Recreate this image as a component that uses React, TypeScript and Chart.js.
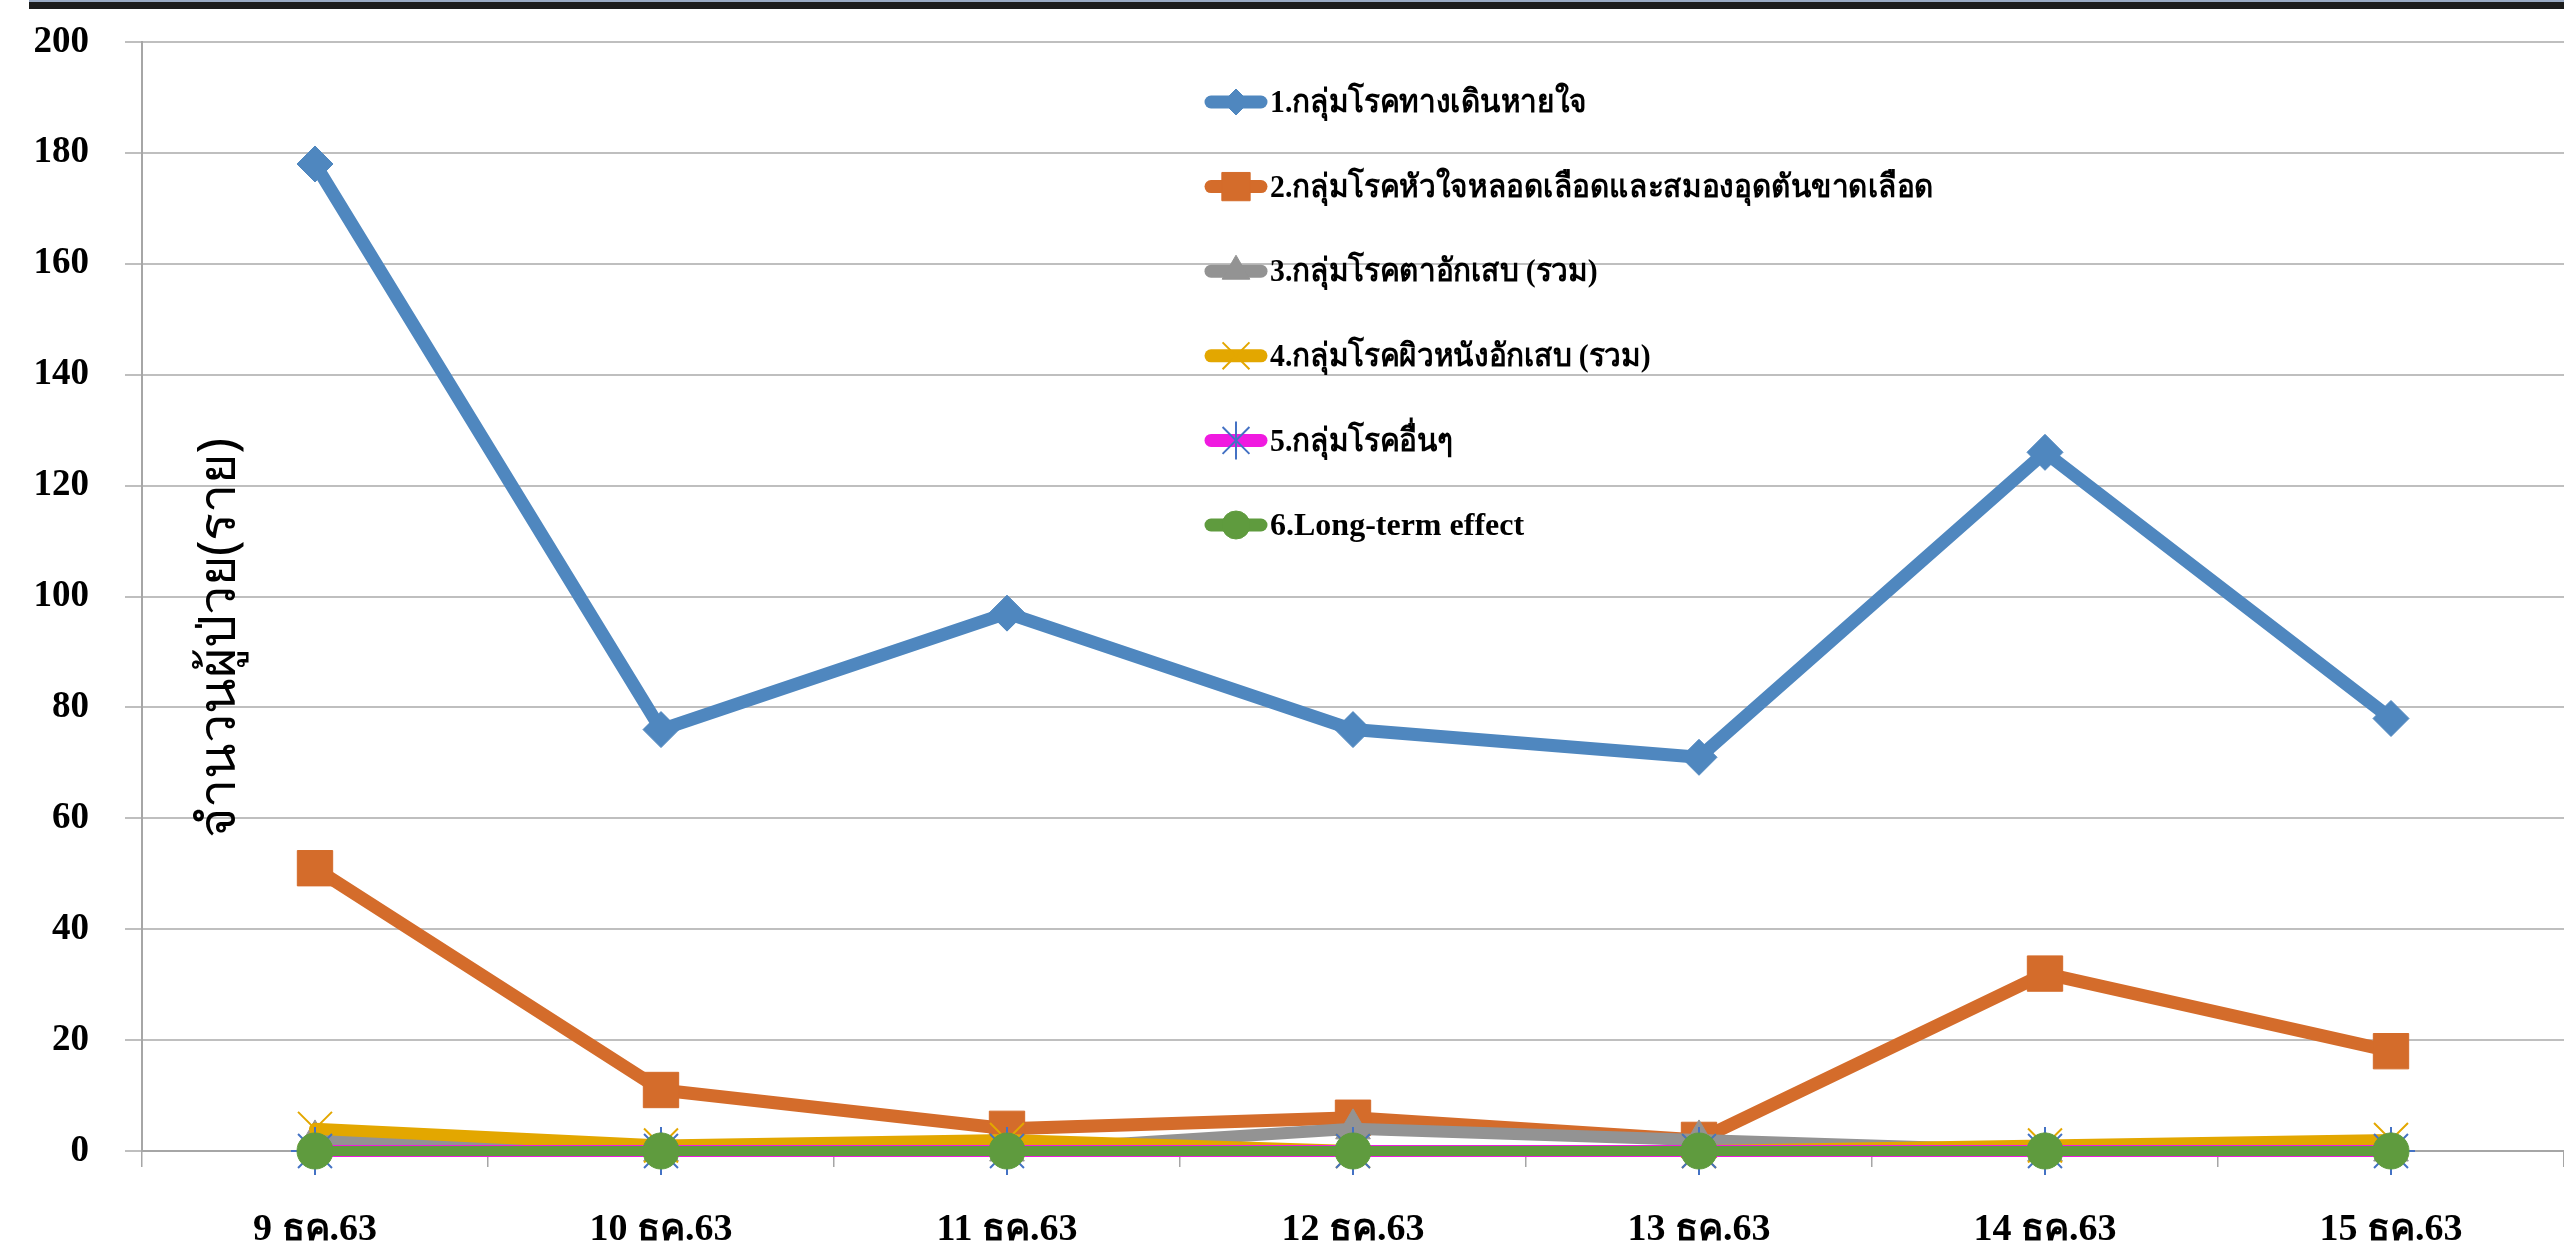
import React, { useEffect, useRef } from "react";
import { Chart, registerables } from "chart.js";

Chart.register(...registerables);

const categories = ["9 ธค.63", "10 ธค.63", "11 ธค.63", "12 ธค.63", "13 ธค.63", "14 ธค.63", "15 ธค.63"];
const seriesNames = [
  "1.กลุ่มโรคทางเดินหายใจ",
  "2.กลุ่มโรคหัวใจหลอดเลือดและสมองอุดตันขาดเลือด",
  "3.กลุ่มโรคตาอักเสบ (รวม)",
  "4.กลุ่มโรคผิวหนังอักเสบ (รวม)",
  "5.กลุ่มโรคอื่นๆ",
  "6.Long-term effect",
];
const respiratory = [178, 76, 97, 76, 71, 126, 78];
const cardio = [51, 11, 4, 6, 2, 32, 18];
const eye = [2, 0, 0, 4, 2, 0, 0];
const skin = [4, 1, 2, 0, 0, 1, 2];
const other = [0, 0, 0, 0, 0, 0, 0];
const longTerm = [0, 0, 0, 0, 0, 0, 0];
const yMin = 0;
const yMax = 200;
const yStep = 20;
const yTitle = "จำนวนผู้ป่วย(ราย)";

const seriesValues = [respiratory, cardio, eye, skin, other, longTerm];

type Style = {
  color: string;
  point: string;
  pointFill: string;
  pointBorder: string;
  pointBorderWidth: number;
  radius: number;
  legendRadius: number;
  lineWidth: number;
};

const styles: Style[] = [
  { color: "#4f87bf", point: "rectRot", pointFill: "#4f87bf", pointBorder: "#4f87bf", pointBorderWidth: 1, radius: 18, legendRadius: 13, lineWidth: 13 },
  { color: "#d46c2b", point: "rect", pointFill: "#d46c2b", pointBorder: "#d46c2b", pointBorderWidth: 1, radius: 25, legendRadius: 20, lineWidth: 13 },
  { color: "#939393", point: "triangle", pointFill: "#939393", pointBorder: "#939393", pointBorderWidth: 1, radius: 20, legendRadius: 16, lineWidth: 12 },
  { color: "#e3a700", point: "crossRot", pointFill: "#e3a700", pointBorder: "#e3a700", pointBorderWidth: 2, radius: 24, legendRadius: 19, lineWidth: 12 },
  { color: "#f01ae0", point: "star", pointFill: "#4472c4", pointBorder: "#4472c4", pointBorderWidth: 2, radius: 24, legendRadius: 19, lineWidth: 12 },
  { color: "#5f9b3e", point: "circle", pointFill: "#5f9b3e", pointBorder: "#5f9b3e", pointBorderWidth: 1, radius: 18, legendRadius: 14, lineWidth: 10 },
];

function drawMarker(ctx: CanvasRenderingContext2D, kind: string, x: number, y: number, r: number, fill: string, stroke: string, bw: number) {
  ctx.save();
  ctx.fillStyle = fill;
  ctx.strokeStyle = stroke;
  ctx.lineWidth = bw;
  ctx.beginPath();
  const c45 = Math.SQRT1_2 * r;
  let filled = true;
  if (kind === "rectRot") {
    ctx.moveTo(x - r, y);
    ctx.lineTo(x, y - r);
    ctx.lineTo(x + r, y);
    ctx.lineTo(x, y + r);
    ctx.closePath();
  } else if (kind === "rect") {
    ctx.rect(x - c45, y - c45, 2 * c45, 2 * c45);
  } else if (kind === "triangle") {
    for (let k = 0; k < 3; k++) {
      const a = (k * 2 * Math.PI) / 3;
      const px = x + Math.sin(a) * r;
      const py = y - Math.cos(a) * r;
      if (k === 0) ctx.moveTo(px, py);
      else ctx.lineTo(px, py);
    }
    ctx.closePath();
  } else if (kind === "crossRot" || kind === "star") {
    filled = false;
    ctx.moveTo(x - c45, y - c45);
    ctx.lineTo(x + c45, y + c45);
    ctx.moveTo(x - c45, y + c45);
    ctx.lineTo(x + c45, y - c45);
    if (kind === "star") {
      ctx.moveTo(x, y - r);
      ctx.lineTo(x, y + r);
    }
  } else {
    ctx.arc(x, y, r, 0, Math.PI * 2);
  }
  if (filled) ctx.fill();
  ctx.stroke();
  ctx.restore();
}

const thaiRe = /[\u0E00-\u0E7F]/;

const insideLegend = {
  id: "insideLegend",
  afterDraw(chart: any) {
    const ctx: CanvasRenderingContext2D = chart.ctx;
    const area = chart.chartArea;
    const x0 = area.left + 1063;
    seriesNames.forEach((name, i) => {
      const st = styles[i];
      const y = area.top + 60 + i * 84.6;
      ctx.save();
      ctx.strokeStyle = st.color;
      ctx.lineWidth = 13;
      ctx.lineCap = "round";
      ctx.beginPath();
      ctx.moveTo(x0 + 6, y);
      ctx.lineTo(x0 + 56, y);
      ctx.stroke();
      ctx.restore();
      drawMarker(ctx, st.point, x0 + 31, y, st.legendRadius, st.pointFill, st.pointBorder, st.pointBorderWidth);
      ctx.save();
      ctx.fillStyle = "#000";
      ctx.font = 'bold 32px "Liberation Serif", "DejaVu Serif", serif';
      ctx.textBaseline = "middle";
      ctx.textAlign = "left";
      const w = ctx.measureText(name).width;
      const maxW = thaiRe.test(name) ? w * 0.93 : w;
      ctx.fillText(name, x0 + 65, y + 2, maxW);
      ctx.restore();
    });
  },
};

const innerYTitle = {
  id: "innerYTitle",
  afterDraw(chart: any) {
    const ctx: CanvasRenderingContext2D = chart.ctx;
    const area = chart.chartArea;
    ctx.save();
    ctx.translate(area.left + 78, area.top + 596);
    ctx.rotate(-Math.PI / 2);
    ctx.fillStyle = "#000";
    ctx.font = '52px "Noto Sans", "DejaVu Sans", sans-serif';
    ctx.textAlign = "center";
    ctx.textBaseline = "middle";
    ctx.fillText(yTitle, 0, 0);
    ctx.restore();
  },
};

export default function App() {
  const ref = useRef<HTMLCanvasElement | null>(null);
  useEffect(() => {
    document.body.style.margin = "0";
    const canvas = ref.current;
    if (!canvas) return;
    const serif = '"Liberation Serif", "DejaVu Serif", serif';
    const chart = new Chart(canvas, {
      type: "line",
      data: {
        labels: categories,
        datasets: seriesNames.map((name, i) => {
          const st = styles[i];
          return {
            label: name,
            data: seriesValues[i],
            borderColor: st.color,
            backgroundColor: st.color,
            borderWidth: st.lineWidth,
            borderJoinStyle: "round" as const,
            borderCapStyle: "round" as const,
            pointStyle: st.point as any,
            pointRadius: st.radius,
            pointHoverRadius: st.radius,
            pointBackgroundColor: st.pointFill,
            pointBorderColor: st.pointBorder,
            pointBorderWidth: st.pointBorderWidth,
            tension: 0,
            fill: false,
            order: 5 - i,
            clip: false as any,
          };
        }),
      },
      options: {
        animation: false,
        responsive: true,
        maintainAspectRatio: false,
        devicePixelRatio: 1,
        layout: { autoPadding: false, padding: { top: 42, left: 0, right: 0, bottom: 0 } },
        plugins: {
          legend: { display: false },
          tooltip: { enabled: false },
          title: { display: false },
        },
        scales: {
          x: {
            type: "category",
            offset: true,
            grid: {
              display: true,
              drawOnChartArea: false,
              drawTicks: true,
              tickLength: 16,
              color: "#a6a6a6",
              lineWidth: 1.5,
              offset: true,
            },
            border: { display: true, color: "#a6a6a6", width: 2 },
            ticks: { color: "#000", font: { family: serif, size: 38, weight: "bold" as const }, padding: 40, maxRotation: 0, autoSkip: false },
            afterFit(scale: any) {
              scale.height = 96;
              scale.paddingLeft = 0;
              scale.paddingRight = 0;
            },
          },
          y: {
            min: yMin,
            max: yMax,
            ticks: { stepSize: yStep, color: "#000", font: { family: serif, size: 37, weight: "bold" as const }, padding: 36 },
            grid: { color: "#bfbfbf", lineWidth: 2, tickLength: 17, drawTicks: true },
            border: { display: true, color: "#a6a6a6", width: 2 },
            afterFit(scale: any) {
              scale.width = 142;
              scale.paddingTop = 0;
              scale.paddingBottom = 0;
            },
          },
        },
      },
      plugins: [insideLegend, innerYTitle],
    });
    return () => chart.destroy();
  }, []);
  return (
    <div style={{ position: "fixed", left: 0, top: 0, width: 2564, height: 1247, background: "#fff" }}>
      <canvas ref={ref} style={{ position: "absolute", left: 0, top: 0, width: 2564, height: 1247 }} />
      <div style={{ position: "absolute", left: 29, top: 0, right: 0, height: 2, background: "#9aaac4" }} />
      <div style={{ position: "absolute", left: 29, top: 2, right: 0, height: 7, background: "#1c1c1c" }} />
    </div>
  );
}
